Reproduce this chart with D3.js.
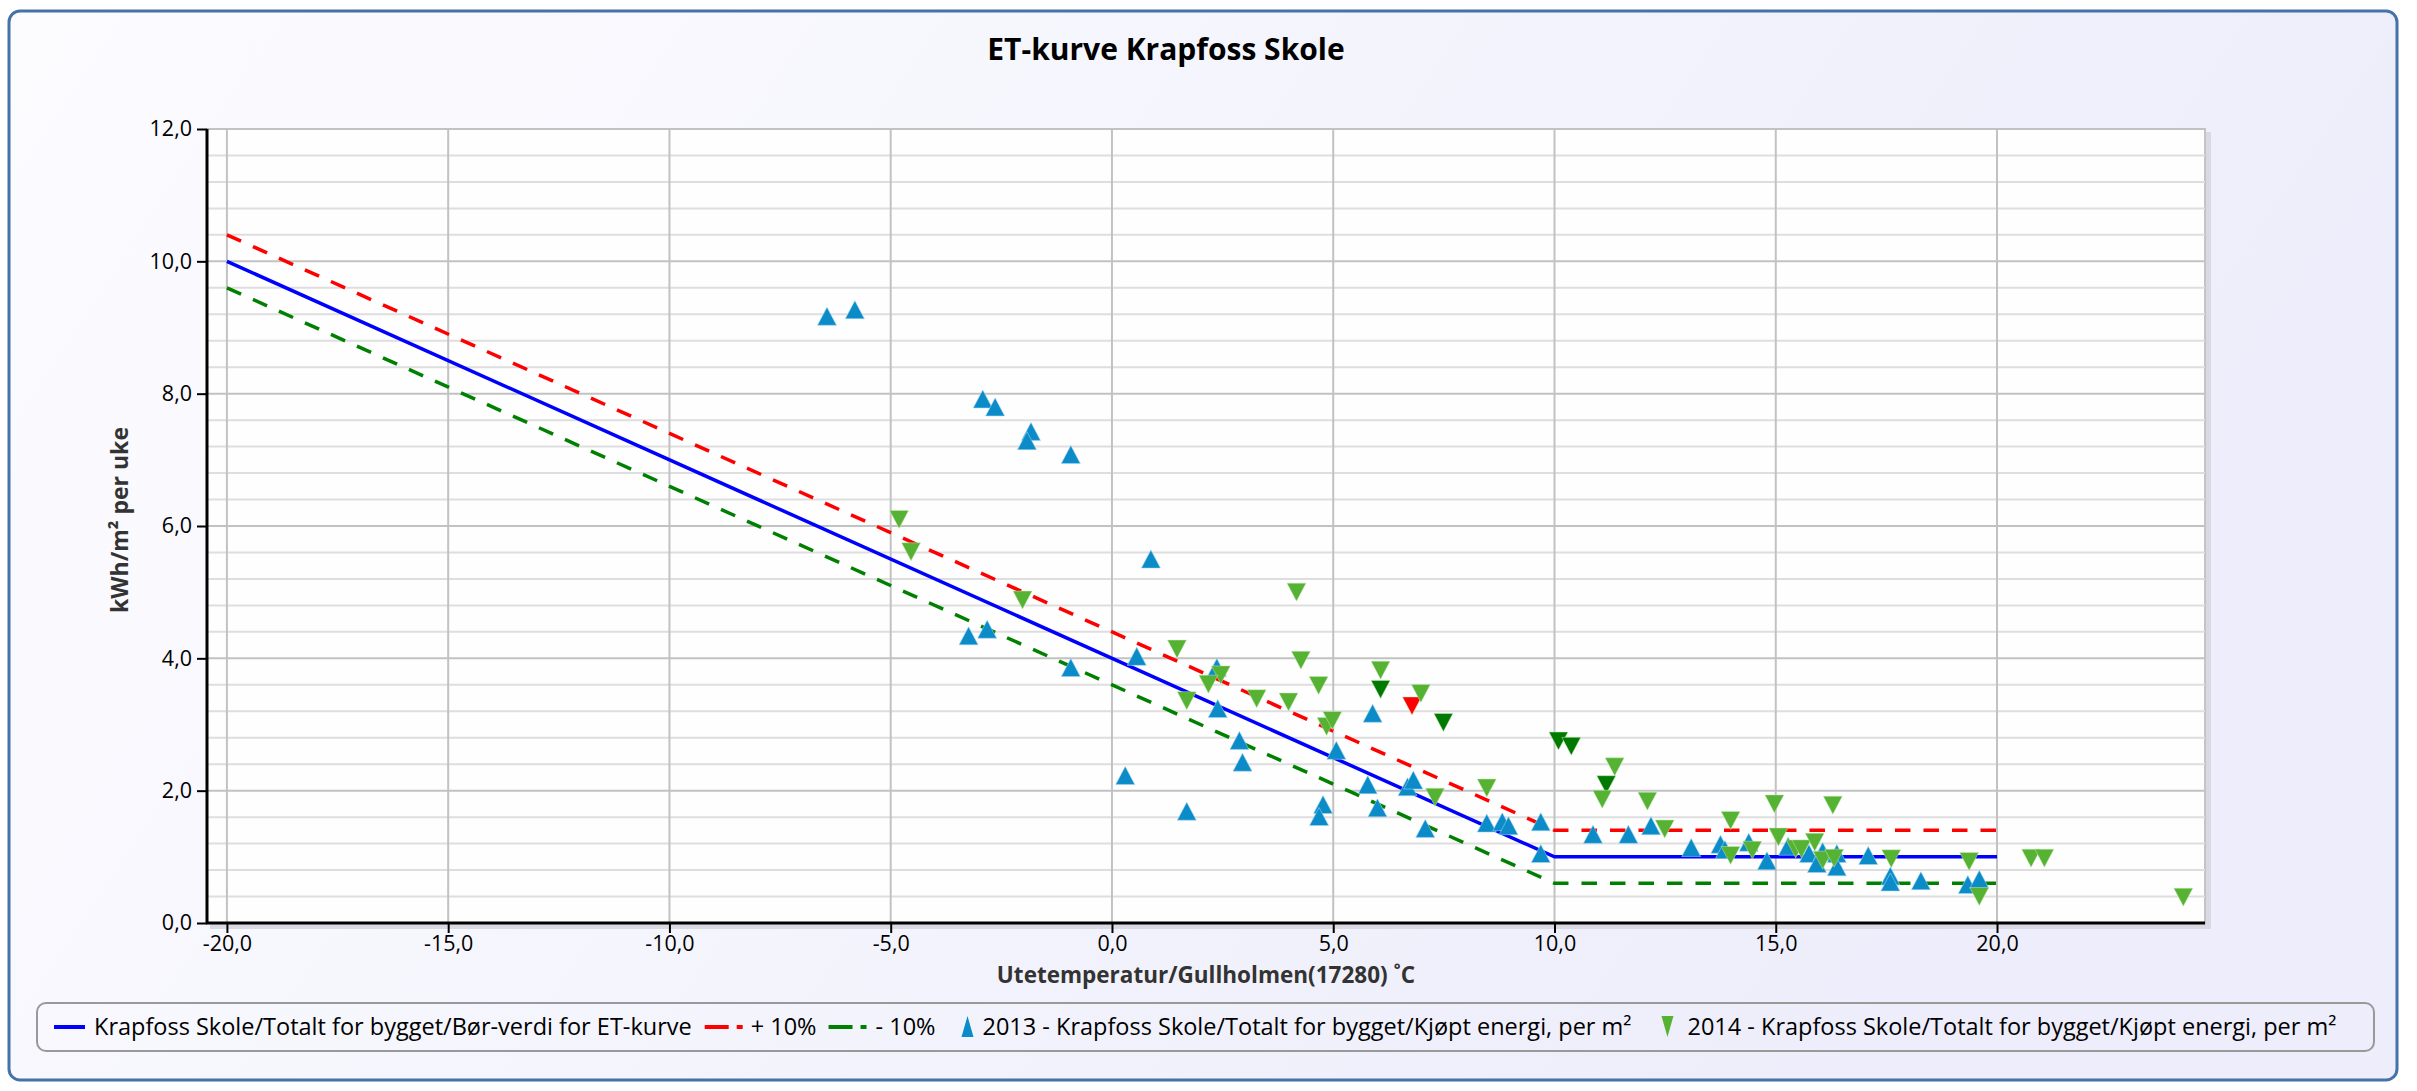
<!DOCTYPE html>
<html><head><meta charset="utf-8">
<script src="https://cdn.jsdelivr.net/npm/d3@7"></script>
<style>
body{margin:0;background:#fff;}
svg{display:block;}
text{font-family:"Open Sans",sans-serif;}
</style>
</head><body>
<svg id="chart" width="2417" height="1091"></svg>
<script>
// ---------- DATA ----------
const chartTitle = "ET-kurve Krapfoss Skole";
const xTitle = "Utetemperatur/Gullholmen(17280) \u02DAC";
const yTitle = "kWh/m\u00B2 per uke";
const xTicks = [-20, -15, -10, -5, 0, 5, 10, 15, 20];
const yTicks = [0, 2, 4, 6, 8, 10, 12];
const yMinorStep = 0.4;

const seriesNames = [
  "Krapfoss Skole/Totalt for bygget/B\u00F8r-verdi for ET-kurve",
  "+ 10%",
  "- 10%",
  "2013 - Krapfoss Skole/Totalt for bygget/Kj\u00F8pt energi, per m\u00B2",
  "2014 - Krapfoss Skole/Totalt for bygget/Kj\u00F8pt energi, per m\u00B2"
];

const etTemps  = [-20, 10, 20];
const etTarget = [10.0, 1.0, 1.0];
const etPlus   = [10.4, 1.4, 1.4];
const etMinus  = [9.6, 0.6, 0.6];

const temp2013 = [-6.44,-5.81,-2.92,-2.64,-1.83,-1.92,-0.93,0.88,-3.24,-2.82,-0.93,0.56,2.37,0.30,1.69,2.39,2.88,2.95,5.07,5.89,5.78,4.77,4.68,6.00,6.68,6.81,7.08,8.47,8.82,8.96,9.69,9.69,10.87,11.67,12.18,13.09,13.75,13.85,14.39,14.80,15.28,15.75,16.06,15.93,16.38,16.38,17.09,17.59,17.59,18.28,19.34,19.60];
const energy2013 = [9.17,9.27,7.92,7.80,7.43,7.29,7.08,5.50,4.34,4.44,3.86,4.03,3.86,2.23,1.69,3.24,2.76,2.43,2.61,3.17,2.09,1.79,1.61,1.74,2.06,2.16,1.43,1.51,1.53,1.47,1.53,1.05,1.34,1.34,1.47,1.14,1.19,1.11,1.22,0.94,1.16,1.05,1.08,0.90,1.05,0.85,1.02,0.71,0.62,0.64,0.58,0.66];

const temp2014 = [-4.81,-4.54,-2.02,1.47,2.46,2.18,1.69,3.27,3.99,4.17,4.27,4.67,4.85,4.98,6.07,6.07,6.78,6.98,7.49,7.30,8.47,10.09,10.38,11.36,11.17,11.08,12.10,12.49,13.98,13.98,14.47,14.97,15.06,15.45,15.58,15.88,16.06,16.32,16.29,17.61,19.37,19.60,20.77,21.07,24.21];
const energy2014 = [6.10,5.61,4.88,4.14,3.75,3.61,3.36,3.39,3.34,5.00,3.97,3.59,2.97,3.06,3.82,3.53,3.28,3.47,3.03,1.90,2.04,2.75,2.67,2.36,2.09,1.87,1.84,1.42,1.55,1.02,1.10,1.80,1.30,1.12,1.12,1.22,0.95,0.98,1.78,0.97,0.93,0.40,0.98,0.98,0.39];
// 0 = normal, 1 = marked (dark), 2 = alert (red)
const status2014 = [0,0,0,0,0,0,0,0,0,0,0,0,0,0,0,1,2,0,1,0,0,1,1,0,1,0,0,0,0,0,0,0,0,0,0,0,0,0,0,0,0,0,0,0,0];

// ---------- STYLE / LAYOUT ----------
const plot = {left: 207, right: 2205, top: 129, bottom: 923};
const xDomain = [-20.45, 24.7];
const yDomain = [0, 12];
const colBlue = "#0000ff", colRed = "#ff0000", colGreen = "#008000";
const col2013 = "#0b8bc8";
const col2014 = ["#56b233", "#007a00", "#ff0000"];
const triW = 19, triH = 18;
const tickFont = 21.5, titleFont = 30, axisTitleFont = 23, legFont = 23.5;

const svg = d3.select("#chart");
const defs = svg.append("defs");
const bg = defs.append("linearGradient").attr("id","bg").attr("x1","0").attr("y1","0").attr("x2","1").attr("y2","0.3");
bg.append("stop").attr("offset","0").attr("stop-color","#fcfcff");
bg.append("stop").attr("offset","1").attr("stop-color","#ededfb");

// outer frame
svg.append("rect").attr("x",9).attr("y",11).attr("width",2388).attr("height",1069)
  .attr("rx",11).attr("fill","url(#bg)").attr("stroke","#4572a7").attr("stroke-width",3);

const x = d3.scaleLinear().domain(xDomain).range([plot.left, plot.right]);
const y = d3.scaleLinear().domain(yDomain).range([plot.bottom, plot.top]);

// plot shadow + background
svg.append("rect").attr("x",plot.left+3).attr("y",plot.top+3)
  .attr("width",plot.right-plot.left+3).attr("height",plot.bottom-plot.top+3)
  .attr("fill","#d9d9e3");
svg.append("rect").attr("x",plot.left).attr("y",plot.top)
  .attr("width",plot.right-plot.left).attr("height",plot.bottom-plot.top)
  .attr("fill","#fefefe").attr("stroke","#c4c4c4").attr("stroke-width",2);

// minor horizontal grid
const minor = d3.range(yDomain[0], yDomain[1]+0.001, yMinorStep).filter(v => Math.abs(v/2 - Math.round(v/2)) > 0.01);
svg.append("g").selectAll("line").data(minor).join("line")
  .attr("x1",plot.left).attr("x2",plot.right)
  .attr("y1",d=>y(d)).attr("y2",d=>y(d))
  .attr("stroke","#dedede").attr("stroke-width",2);
// major horizontal grid
svg.append("g").selectAll("line").data(yTicks).join("line")
  .attr("x1",plot.left).attr("x2",plot.right)
  .attr("y1",d=>y(d)).attr("y2",d=>y(d))
  .attr("stroke","#c2c2c2").attr("stroke-width",2);
// vertical grid
svg.append("g").selectAll("line").data(xTicks).join("line")
  .attr("x1",d=>x(d)).attr("x2",d=>x(d))
  .attr("y1",plot.top).attr("y2",plot.bottom)
  .attr("stroke","#c2c2c2").attr("stroke-width",2);

const fmt = v => v.toFixed(1).replace(".", ",");

// axes
const xAxis = d3.axisBottom(x).tickValues(xTicks).tickFormat(fmt).tickSize(10).tickPadding(3).tickSizeOuter(0);
const gx = svg.append("g").attr("transform",`translate(0,${plot.bottom})`).call(xAxis);
gx.select(".domain").attr("stroke","#000").attr("stroke-width",3).attr("d",`M${plot.left-1},0H${plot.right}`);
gx.selectAll(".tick line").attr("stroke","#000").attr("stroke-width",2);
gx.selectAll("text").attr("font-size",tickFont).attr("fill","#000").attr("font-family","'Open Sans',sans-serif");

const yAxis = d3.axisLeft(y).tickValues(yTicks).tickFormat(fmt).tickSize(10).tickPadding(5).tickSizeOuter(0);
const gy = svg.append("g").attr("transform",`translate(${plot.left},0)`).call(yAxis);
gy.select(".domain").attr("stroke","#000").attr("stroke-width",3).attr("d",`M0,${plot.top}V${plot.bottom+1}`);
gy.selectAll(".tick line").attr("stroke","#000").attr("stroke-width",2);
gy.selectAll("text").attr("font-size",tickFont).attr("fill","#000").attr("font-family","'Open Sans',sans-serif");

// ET lines
const lineGen = d3.line().x(d=>x(d[0])).y(d=>y(d[1]));
const gl = svg.append("g");
gl.append("path").datum(etTemps.map((t,i)=>[t,etMinus[i]])).attr("d",lineGen)
  .attr("fill","none").attr("stroke",colGreen).attr("stroke-width",3.5).attr("stroke-dasharray","15.5,13");
gl.append("path").datum(etTemps.map((t,i)=>[t,etPlus[i]])).attr("d",lineGen)
  .attr("fill","none").attr("stroke",colRed).attr("stroke-width",3.5).attr("stroke-dasharray","15.5,13");
gl.append("path").datum(etTemps.map((t,i)=>[t,etTarget[i]])).attr("d",lineGen)
  .attr("fill","none").attr("stroke",colBlue).attr("stroke-width",3.5);

const triUp = `M0,${-triH/2}L${triW/2},${triH/2}L${-triW/2},${triH/2}Z`;
const triDown = `M0,${triH/2}L${triW/2},${-triH/2}L${-triW/2},${-triH/2}Z`;

svg.append("g").selectAll("path").data(temp2013.map((t,i)=>[t,energy2013[i]])).join("path")
  .attr("d",triUp).attr("transform",d=>`translate(${x(d[0])},${y(d[1])})`)
  .attr("fill",col2013).attr("stroke","#9fd6f0").attr("stroke-width",0.8).attr("stroke-opacity",0.7);

svg.append("g").selectAll("path").data(temp2014.map((t,i)=>[t,energy2014[i],status2014[i]])).join("path")
  .attr("d",triDown).attr("transform",d=>`translate(${x(d[0])},${y(d[1])})`)
  .attr("fill",d=>col2014[d[2]]).attr("stroke","#c8ecb8").attr("stroke-width",0.8).attr("stroke-opacity",0.6);

// titles
svg.append("text").attr("x",1166).attr("y",60).attr("text-anchor","middle")
  .attr("font-size",titleFont).attr("font-weight","bold").attr("fill","#000").text(chartTitle);
svg.append("text").attr("x",(plot.left+plot.right)/2).attr("y",983).attr("text-anchor","middle")
  .attr("font-size",axisTitleFont-0.5).attr("font-weight","bold").attr("fill","#333").text(xTitle);
svg.append("text").attr("transform",`translate(128,${(plot.top+plot.bottom)/2 - 6}) rotate(-90)`)
  .attr("text-anchor","middle").attr("font-size",axisTitleFont).attr("font-weight","bold").attr("fill","#333").text(yTitle);

// legend (sequential layout)
const leg = svg.append("g");
leg.append("rect").attr("x",37).attr("y",1003).attr("width",2337).attr("height",48).attr("rx",9)
  .attr("fill","none").attr("stroke","#999").attr("stroke-width",2);
const legY = 1027;
const legItems = [
  {kind:"line", color:colBlue, dash:null, w:31, tOff:40, gapAfter:13},
  {kind:"line", color:colRed, dash:"24,8,6,8", w:38, tOff:46, gapAfter:12},
  {kind:"line", color:colGreen, dash:"24,8,6,8", w:38, tOff:47, gapAfter:22},
  {kind:"up", color:col2013, w:20, tOff:25, gapAfter:26},
  {kind:"down", color:col2014[0], w:20, tOff:30, gapAfter:0}
];
let cursor = 54;
legItems.forEach((it,i)=>{
  if(it.kind==="line"){
    leg.append("line").attr("x1",cursor).attr("x2",cursor+it.w).attr("y1",legY).attr("y2",legY)
      .attr("stroke",it.color).attr("stroke-width",4).attr("stroke-dasharray",it.dash);
  } else {
    leg.append("path").attr("d",it.kind==="up"?`M0,-11L6,10L-6,10Z`:`M0,10L6,-11L-6,-11Z`)
      .attr("transform",`translate(${cursor+it.w/2},${legY})`).attr("fill",it.color);
  }
  const t = leg.append("text").attr("x",cursor+it.tOff).attr("y",legY+8).attr("font-size",legFont).attr("fill","#000").text(seriesNames[i]);
  cursor = cursor + it.tOff + t.node().getComputedTextLength() + it.gapAfter;
});
</script>
</body></html>
